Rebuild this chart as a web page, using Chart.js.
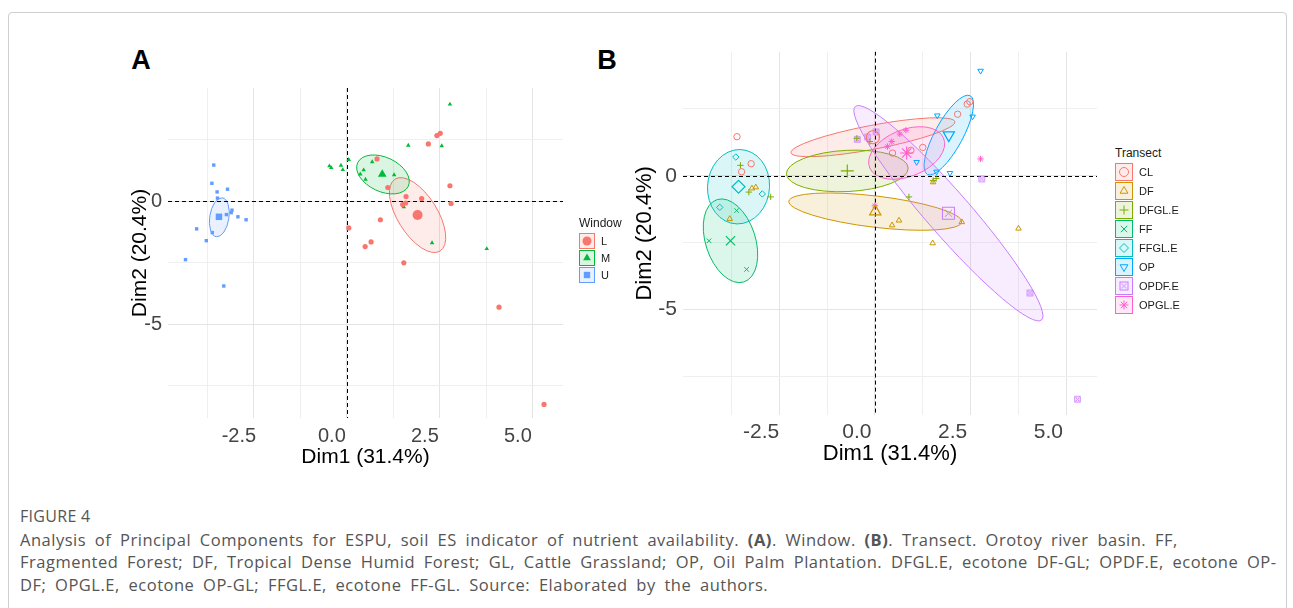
<!DOCTYPE html>
<html>
<head>
<meta charset="utf-8">
<script src="https://cdn.jsdelivr.net/npm/chart.js@4.4.1/dist/chart.umd.min.js"></script>
<style>
  body { margin: 0; background: #fff; font-family: "Liberation Sans", Arial, sans-serif; }
  #frame { position: absolute; left: 8px; top: 12px; width: 1277px; height: 640px; border: 1px solid #cfcfcf; border-radius: 4px; }
  .panel { position: absolute; font-weight: bold; font-size: 27px; transform: translate(-50%, -50%); color: #000; }
  canvas.chart { position: absolute; }
  .legend { position: absolute; color: #1a1a1a; }
  .legend .ttl { font-size: 12px; height: 18px; line-height: 18px; }
  .legend .row { display: flex; align-items: center; font-size: 11px; }
  .legend .row canvas { margin-right: 6px; }
  #caption { position: absolute; left: 20px; top: 505px; font-family: "Open Sans", sans-serif; color: #555; font-size: 16.5px; letter-spacing: 0.5px; word-spacing: 4px; line-height: 22.5px; white-space: nowrap; }
  #caption .fig { font-size: 16px; letter-spacing: 0.3px; word-spacing: 0; margin-bottom: 1px; }
</style>
</head>
<body>
<div id="frame"></div>
<div class="panel" style="left:141px;top:60px">A</div>
<div class="panel" style="left:607px;top:60px">B</div>
<canvas id="chartA" class="chart" width="452" height="400" style="left:128px;top:70px"></canvas>
<canvas id="chartB" class="chart" width="478" height="434" style="left:632px;top:33px"></canvas>
<div id="legendA" class="legend" style="left:579px;top:214px"></div>
<div id="legendB" class="legend" style="left:1115px;top:144px"></div>
<div id="caption">
  <div class="fig">FIGURE 4</div>
  <div>Analysis of Principal Components for ESPU, soil ES indicator of nutrient availability. <b>(A)</b>. Window. <b>(B)</b>. Transect. Orotoy river basin. FF,</div>
  <div>Fragmented Forest; DF, Tropical Dense Humid Forest; GL, Cattle Grassland; OP, Oil Palm Plantation. DFGL.E, ecotone DF-GL; OPDF.E, ecotone OP-</div>
  <div>DF; OPGL.E, ecotone OP-GL; FFGL.E, ecotone FF-GL. Source: Elaborated by the authors.</div>
</div>
<script>
// --- AXES ---
const xTicksA = [-3.75, -2.5, -1.25, 0, 1.25, 2.5, 3.75, 5];
const yTicksA = [2.5, 0, -2.5, -5, -7.5];
const xTicksB = [-3.75, -2.5, -1.25, 0, 1.25, 2.5, 3.75, 5];
const yTicksB = [2.5, 0, -2.5, -5, -7.5];
const xLabelVals = [-2.5, 0, 2.5, 5];
const xLabelText = ['-2.5', '0.0', '2.5', '5.0'];
const yLabelVals = [0, -5];
const yLabelText = ['0', '-5'];

// --- PANEL A: Window ---
const windowNames = ['L', 'M', 'U'];
const windowColors = ['#F8766D', '#00BA38', '#619CFF'];
const windowShapes = ['circle', 'triangle', 'rect'];
const L_x = [0.81, 2.19, 2.42, 2.51, 1.10, 1.59, 1.50, 1.58, 2.01, 2.77, 2.80, 0.90, 0.05, 0.65, 0.49, 1.53, 4.09, 5.30];
const L_y = [1.72, 2.33, 2.67, 2.76, 0.56, 0.19, -0.13, -0.07, 0.11, 0.63, -0.09, -0.75, -1.08, -1.65, -1.84, -2.50, -4.30, -8.25];
const M_x = [-0.47, -0.42, -0.16, -0.11, 0.05, 0.68, 0.45, 0.36, 0.50, 1.27, 1.65, 2.55, 2.77, 1.53, 2.29, 3.76];
const M_y = [1.43, 1.36, 1.46, 1.28, 1.69, 1.60, 1.27, 1.10, 0.89, 1.07, 2.27, 2.25, 3.94, -0.23, -1.69, -1.93];
const U_x = [-3.58, -3.63, -3.49, -3.21, -3.48, -3.24, -3.09, -3.11, -2.93, -2.71, -4.04, -3.62, -3.78, -4.34, -3.31];
const U_y = [1.47, 0.73, 0.38, 0.49, 0.13, -0.54, -0.36, -0.46, -0.63, -0.75, -1.12, -1.27, -1.60, -2.37, -3.44];
const windowMeanX = [1.90, 0.95, -3.44];
const windowMeanY = [-0.56, 1.10, -0.63];
// ellipse: centre x, centre y, semi-axis 1 (dx, dy), semi-axis 2 (dx, dy) in data units
const windowEllipses = [
  [1.90, -0.56, 0.602, -1.464, -0.460, -0.413],
  [0.97, 1.09, 0.677, -0.488, -0.207, -0.623],
  [-3.43, -0.65, 0.08, 0.79, 0.255, -0.056]
];

// --- PANEL B: Transect ---
const transectNames = ['CL', 'DF', 'DFGL.E', 'FF', 'FFGL.E', 'OP', 'OPDF.E', 'OPGL.E'];
const transectColors = ['#F8766D', '#CD9600', '#7CAE00', '#00BE67', '#00BFC4', '#00A9FF', '#C77CFF', '#FF61CC'];
const CL_x = [-3.60, -3.23, -3.48, 2.16, 2.41, 2.48, 1.25, 0.46, 0.94];
const CL_y = [1.46, 0.45, 0.15, 2.30, 2.68, 2.77, 1.06, 0.85, 0.95];
const DF_x = [-3.11, -3.21, -3.79, 0.63, 0.45, 1.51, 2.27, 3.75, 1.52];
const DF_y = [-0.43, -0.47, -1.61, -1.67, -1.85, -2.52, -1.73, -1.97, -0.24];
const DFGL_x = [-3.51, -3.29, -2.72, -0.47, -0.13, 1.52, 1.60, 0.89];
const DFGL_y = [0.39, -0.61, -0.79, 1.40, 1.28, -0.18, -0.10, -0.79];
const FF_x = [-4.33, -3.61, -3.35];
const FF_y = [-2.43, -1.30, -3.50];
const FFGL_x = [-3.63, -2.94, -4.05];
const FFGL_y = [0.70, -0.68, -1.18];
const OP_x = [2.76, 1.63, 2.55, 1.09, 1.61, 1.96];
const OP_y = [3.92, 2.25, 2.21, 0.51, 0.15, 0.10];
const OPDF_x = [-0.46, -0.19, 0.03, 2.79, 4.05, 5.29];
const OPDF_y = [1.36, 1.45, 1.64, -0.12, -4.38, -8.35];
const OPGL_x = [0.65, 0.81, 0.44, 0.33, 2.76, 0.00];
const OPGL_y = [1.56, 1.70, 1.28, 1.09, 0.63, -1.12];
const transectMeanX = [-0.05, 0.01, -0.72, -3.77, -3.56, 1.93, 1.92, 0.83];
const transectMeanY = [1.44, -1.34, 0.18, -2.43, -0.41, 1.52, -1.40, 0.85];
const transectEllipses = [
  [-0.05, 1.44, 2.14, 0.58, 0.06, -0.44],
  [0.01, -1.34, 2.256, -0.387, -0.05, -0.58],
  [-0.72, 0.18, 1.59, 0.11, 0.02, -0.77],
  [-3.77, -2.43, 0.347, -1.540, -0.621, -0.274],
  [-3.56, -0.41, 0.04, 1.39, 0.81, -0.02],
  [1.93, 1.52, 0.559, 1.471, 0.324, -0.241],
  [1.92, -1.40, 2.43, -3.99, 0.436, 0.522],
  [0.83, 0.85, 0.963, 0.562, 0.243, -0.807]
];

// --- HELPERS ---
function alpha(hex, a) {
  const n = parseInt(hex.slice(1), 16);
  return `rgba(${n >> 16},${(n >> 8) & 255},${n & 255},${a})`;
}

function zip(xs, ys) {
  return xs.map((x, i) => ({ x: x, y: ys[i] }));
}

// square with an X inside, for OPDF.E
function boxedX(r, color) {
  const c = document.createElement('canvas');
  const s = Math.ceil(2 * r + 2);
  c.width = s; c.height = s;
  const g = c.getContext('2d');
  const m = s / 2;
  g.strokeStyle = color;
  g.lineWidth = 1;
  g.strokeRect(m - r + 0.5, m - r + 0.5, 2 * r - 1, 2 * r - 1);
  g.beginPath();
  g.moveTo(m - r * 0.55, m - r * 0.55); g.lineTo(m + r * 0.55, m + r * 0.55);
  g.moveTo(m + r * 0.55, m - r * 0.55); g.lineTo(m - r * 0.55, m + r * 0.55);
  g.stroke();
  return c;
}

function transectStyle(i, r) {
  const styles = ['circle', 'triangle', 'cross', 'crossRot', 'rectRot', 'triangle', null, 'star'];
  if (i === 6) return { pointStyle: boxedX(r, transectColors[6]), rotation: 0 };
  return { pointStyle: styles[i], rotation: i === 5 ? 180 : 0 };
}

const ellipsePlugin = {
  id: 'ellipses',
  beforeDatasetsDraw(chart, args, opts) {
    const { ctx, chartArea, scales: { x, y } } = chart;
    const sx = x.getPixelForValue(1) - x.getPixelForValue(0);
    const sy = y.getPixelForValue(1) - y.getPixelForValue(0);
    ctx.save();
    ctx.beginPath();
    ctx.rect(chartArea.left, chartArea.top, chartArea.right - chartArea.left, chartArea.bottom - chartArea.top);
    ctx.clip();
    opts.items.forEach((e, i) => {
      ctx.save();
      ctx.translate(x.getPixelForValue(e[0]), y.getPixelForValue(e[1]));
      ctx.transform(e[2] * sx, e[3] * sy, e[4] * sx, e[5] * sy, 0, 0);
      ctx.beginPath();
      ctx.arc(0, 0, 1, 0, Math.PI * 2);
      ctx.restore();
      ctx.fillStyle = alpha(opts.colors[i], opts.fillAlpha);
      ctx.fill();
      ctx.strokeStyle = opts.colors[i];
      ctx.lineWidth = 1;
      ctx.stroke();
    });
    // dashed zero lines
    ctx.strokeStyle = '#000';
    ctx.lineWidth = 1;
    ctx.setLineDash([4, 3]);
    ctx.beginPath();
    const x0 = Math.round(x.getPixelForValue(0)) + 0.5;
    const y0 = Math.round(y.getPixelForValue(0)) + 0.5;
    ctx.moveTo(x0, chartArea.top); ctx.lineTo(x0, chartArea.bottom);
    ctx.moveTo(chartArea.left, y0); ctx.lineTo(chartArea.right, y0);
    ctx.stroke();
    ctx.restore();
  }
};

function gridStyle(ticksMajor) {
  return {
    color: c => (c.tick && ticksMajor.includes(c.tick.value)) ? '#e4e4e4' : '#efefef',
    lineWidth: 1,
    drawTicks: false
  };
}

function makeChart(id, datasets, ell, lim, tickFont, titleFont, labelOffset, pad, axisW, tickPad) {
  return new Chart(document.getElementById(id), {
    type: 'scatter',
    data: { datasets: datasets },
    options: {
      responsive: false,
      animation: false,
      devicePixelRatio: 1,
      layout: { padding: pad },
      plugins: {
        legend: { display: false },
        tooltip: { enabled: false },
        ellipses: ell
      },
      scales: {
        x: {
          type: 'linear', min: lim[0], max: lim[1],
          afterBuildTicks: s => { s.ticks = lim[4].map(v => ({ value: v })); },
          afterFit: s => { s.height = 52; },
          grid: gridStyle(xLabelVals),
          border: { display: false },
          ticks: {
            autoSkip: false, maxRotation: 0, padding: tickPad,
            labelOffset: labelOffset,
            color: '#444', font: { family: 'Liberation Sans', size: tickFont },
            callback: v => { const k = xLabelVals.indexOf(v); return k >= 0 ? xLabelText[k] : ''; }
          },
          title: { display: true, text: 'Dim1 (31.4%)', color: '#000', padding: 0,
                   font: { family: 'Liberation Sans', size: titleFont } }
        },
        y: {
          type: 'linear', min: lim[2], max: lim[3],
          afterBuildTicks: s => { s.ticks = lim[5].map(v => ({ value: v })); },
          afterFit: s => { s.width = axisW; },
          grid: gridStyle(yLabelVals),
          border: { display: false },
          ticks: {
            autoSkip: false, padding: 6,
            color: '#444', font: { family: 'Liberation Sans', size: tickFont },
            callback: v => { const k = yLabelVals.indexOf(v); return k >= 0 ? yLabelText[k] : ''; }
          },
          title: { display: true, text: 'Dim2 (20.4%)', color: '#000', padding: 0,
                   font: { family: 'Liberation Sans', size: titleFont } }
        }
      }
    },
    plugins: [ellipsePlugin]
  });
}

// --- PANEL A DATASETS ---
const windowPts = [[L_x, L_y], [M_x, M_y], [U_x, U_y]];
const dsA = [];
windowPts.forEach((p, i) => {
  dsA.push({
    data: zip(p[0], p[1]),
    pointStyle: windowShapes[i], pointRadius: i === 2 ? 2.4 : 2.6,
    backgroundColor: windowColors[i], borderColor: windowColors[i], borderWidth: 0
  });
  dsA.push({
    data: [{ x: windowMeanX[i], y: windowMeanY[i] }],
    pointStyle: windowShapes[i], pointRadius: i === 2 ? 4.6 : 5,
    backgroundColor: windowColors[i], borderColor: windowColors[i], borderWidth: 0
  });
});
makeChart('chartA', dsA,
  { items: windowEllipses, colors: windowColors, fillAlpha: 0.14 },
  [-4.81, 5.81, -8.8, 4.6, xTicksA, yTicksA], 20, 21, -15,
  { top: 10, right: 17, left: 0, bottom: 0 }, 40, 6);

// --- PANEL B DATASETS ---
const transectPts = [[CL_x, CL_y], [DF_x, DF_y], [DFGL_x, DFGL_y], [FF_x, FF_y],
                     [FFGL_x, FFGL_y], [OP_x, OP_y], [OPDF_x, OPDF_y], [OPGL_x, OPGL_y]];
const dsB = [];
transectPts.forEach((p, i) => {
  const small = transectStyle(i, 3.2);
  const big = transectStyle(i, 6.5);
  dsB.push({
    data: zip(p[0], p[1]),
    pointStyle: small.pointStyle, rotation: small.rotation, pointRadius: 3.2,
    backgroundColor: 'rgba(0,0,0,0)', borderColor: transectColors[i], borderWidth: 1
  });
  dsB.push({
    data: [{ x: transectMeanX[i], y: transectMeanY[i] }],
    pointStyle: big.pointStyle, rotation: big.rotation, pointRadius: 6.5,
    backgroundColor: 'rgba(0,0,0,0)', borderColor: transectColors[i], borderWidth: 1.2
  });
});
makeChart('chartB', dsB,
  { items: transectEllipses, colors: transectColors, fillAlpha: 0.14 },
  [-5.01, 5.8, -8.94, 4.64, xTicksB, yTicksB], 21, 22, -18,
  { top: 10, right: 13, left: 0, bottom: 0 }, 51, 5);

// --- LEGENDS ---
function buildLegend(id, title, names, colors, size, rowH, styleFn, filled) {
  const box = document.getElementById(id);
  const t = document.createElement('div');
  t.className = 'ttl';
  t.textContent = title;
  box.appendChild(t);
  names.forEach((name, i) => {
    const row = document.createElement('div');
    row.className = 'row';
    row.style.height = rowH + 'px';
    const c = document.createElement('canvas');
    c.width = size; c.height = size;
    const g = c.getContext('2d');
    g.fillStyle = alpha(colors[i], 0.14);
    g.fillRect(0, 0, size, size);
    g.strokeStyle = colors[i];
    g.lineWidth = 1;
    g.strokeRect(0.5, 0.5, size - 1, size - 1);
    const st = styleFn(i);
    g.fillStyle = filled ? colors[i] : 'rgba(0,0,0,0)';
    g.strokeStyle = colors[i];
    Chart.helpers.drawPoint(g, { pointStyle: st.pointStyle, rotation: st.rotation, radius: st.radius, borderWidth: filled ? 0 : 1 }, size / 2, size / 2);
    row.appendChild(c);
    const s = document.createElement('span');
    s.textContent = name;
    row.appendChild(s);
    box.appendChild(row);
  });
}
buildLegend('legendA', 'Window', windowNames, windowColors, 16, 17,
  i => ({ pointStyle: windowShapes[i], rotation: 0, radius: 4.5 }), true);
buildLegend('legendB', 'Transect', transectNames, transectColors, 18, 19,
  i => Object.assign(transectStyle(i, 4.5), { radius: 4.5 }), false);
</script>
</body>
</html>
